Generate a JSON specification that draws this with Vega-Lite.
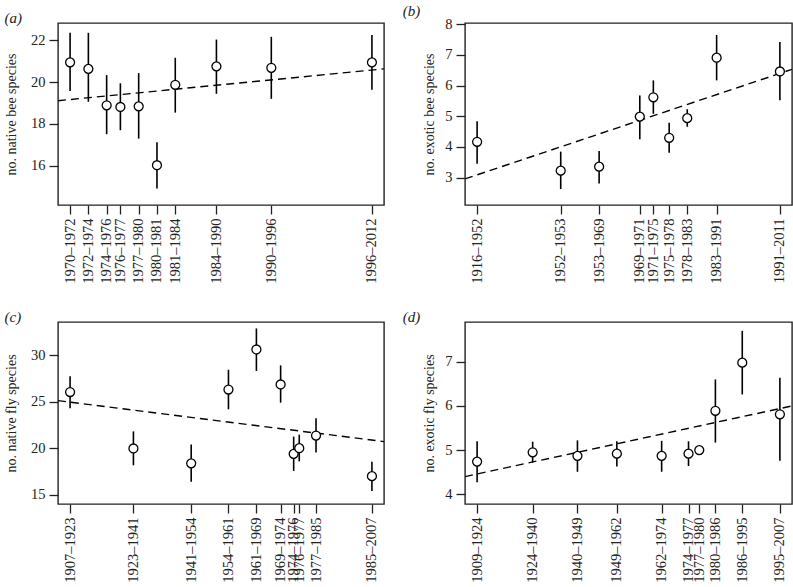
{
  "$schema": "https://vega.github.io/schema/vega-lite/v6.json",
  "background": "white",
  "padding": {"left": 3, "top": 3, "right": 0, "bottom": 0},
  "datasets": {
    "pts": [
      {"panel": "a", "period": "1970–1972", "mid": 1971, "value": 20.94, "lo": 19.57, "hi": 22.35},
      {"panel": "a", "period": "1972–1974", "mid": 1973, "value": 20.63, "lo": 19.06, "hi": 22.35},
      {"panel": "a", "period": "1974–1976", "mid": 1975, "value": 18.89, "lo": 17.51, "hi": 20.33},
      {"panel": "a", "period": "1976–1977", "mid": 1976.5, "value": 18.81, "lo": 17.70, "hi": 19.94},
      {"panel": "a", "period": "1977–1980", "mid": 1978.5, "value": 18.84, "lo": 17.30, "hi": 20.43},
      {"panel": "a", "period": "1980–1981", "mid": 1980.5, "value": 16.03, "lo": 14.92, "hi": 17.13},
      {"panel": "a", "period": "1981–1984", "mid": 1982.5, "value": 19.87, "lo": 18.54, "hi": 21.16},
      {"panel": "a", "period": "1984–1990", "mid": 1987, "value": 20.75, "lo": 19.44, "hi": 22.03},
      {"panel": "a", "period": "1990–1996", "mid": 1993, "value": 20.68, "lo": 19.20, "hi": 22.16},
      {"panel": "a", "period": "1996–2012", "mid": 2004, "value": 20.94, "lo": 19.63, "hi": 22.25},
      {"panel": "b", "period": "1916–1952", "mid": 1934, "value": 4.17, "lo": 3.45, "hi": 4.84},
      {"panel": "b", "period": "1952–1953", "mid": 1952.5, "value": 3.23, "lo": 2.63, "hi": 3.85},
      {"panel": "b", "period": "1953–1969", "mid": 1961, "value": 3.36, "lo": 2.81, "hi": 3.87},
      {"panel": "b", "period": "1969–1971", "mid": 1970, "value": 4.99, "lo": 4.25, "hi": 5.68},
      {"panel": "b", "period": "1971–1975", "mid": 1973, "value": 5.62, "lo": 5.08, "hi": 6.17},
      {"panel": "b", "period": "1975–1978", "mid": 1976.5, "value": 4.30, "lo": 3.81, "hi": 4.79},
      {"panel": "b", "period": "1978–1983", "mid": 1980.5, "value": 4.94, "lo": 4.66, "hi": 5.23},
      {"panel": "b", "period": "1983–1991", "mid": 1987, "value": 6.91, "lo": 6.17, "hi": 7.65},
      {"panel": "b", "period": "1991–2011", "mid": 2001, "value": 6.46, "lo": 5.52, "hi": 7.42},
      {"panel": "c", "period": "1907–1923", "mid": 1915, "value": 26.06, "lo": 24.31, "hi": 27.76},
      {"panel": "c", "period": "1923–1941", "mid": 1932, "value": 19.98, "lo": 18.17, "hi": 21.82},
      {"panel": "c", "period": "1941–1954", "mid": 1947.5, "value": 18.38, "lo": 16.39, "hi": 20.40},
      {"panel": "c", "period": "1954–1961", "mid": 1957.5, "value": 26.33, "lo": 24.20, "hi": 28.46},
      {"panel": "c", "period": "1961–1969", "mid": 1965, "value": 30.64, "lo": 28.33, "hi": 32.91},
      {"panel": "c", "period": "1969–1974", "mid": 1971.5, "value": 26.87, "lo": 24.91, "hi": 28.93},
      {"panel": "c", "period": "1974–1976", "mid": 1975, "value": 19.40, "lo": 17.56, "hi": 21.26},
      {"panel": "c", "period": "1976–1977", "mid": 1976.5, "value": 20.01, "lo": 18.59, "hi": 21.47},
      {"panel": "c", "period": "1977–1985", "mid": 1981, "value": 21.37, "lo": 19.55, "hi": 23.24},
      {"panel": "c", "period": "1985–2007", "mid": 1996, "value": 17.0, "lo": 15.40, "hi": 18.55},
      {"panel": "d", "period": "1909–1924", "mid": 1916.5, "value": 4.74, "lo": 4.27, "hi": 5.20},
      {"panel": "d", "period": "1924–1940", "mid": 1932, "value": 4.95, "lo": 4.72, "hi": 5.19},
      {"panel": "d", "period": "1940–1949", "mid": 1944.5, "value": 4.87, "lo": 4.51, "hi": 5.22},
      {"panel": "d", "period": "1949–1962", "mid": 1955.5, "value": 4.92, "lo": 4.63, "hi": 5.20},
      {"panel": "d", "period": "1962–1974", "mid": 1968, "value": 4.87, "lo": 4.51, "hi": 5.21},
      {"panel": "d", "period": "1974–1977", "mid": 1975.5, "value": 4.92, "lo": 4.64, "hi": 5.20},
      {"panel": "d", "period": "1977–1980", "mid": 1978.5, "value": 5.00, "lo": 4.94, "hi": 5.05},
      {"panel": "d", "period": "1980–1986", "mid": 1983, "value": 5.89, "lo": 5.17, "hi": 6.60},
      {"panel": "d", "period": "1986–1995", "mid": 1990.5, "value": 6.98, "lo": 6.26, "hi": 7.70},
      {"panel": "d", "period": "1995–2007", "mid": 2001, "value": 5.81, "lo": 4.76, "hi": 6.64}
    ],
    "fit": [
      {"panel": "a", "mid": 1969.68, "value": 19.11},
      {"panel": "a", "mid": 2005.32, "value": 20.63},
      {"panel": "b", "mid": 1931.32, "value": 2.96},
      {"panel": "b", "mid": 2003.68, "value": 6.53},
      {"panel": "c", "mid": 1911.76, "value": 25.13},
      {"panel": "c", "mid": 1999.24, "value": 20.72},
      {"panel": "d", "mid": 1913.12, "value": 4.40},
      {"panel": "d", "mid": 2004.38, "value": 6.00}
    ]
  },
  "columns": 2,
  "spacing": {"column": 17, "row": 25},
  "concat": [
    {
      "width": 326, "height": 182,
      "title": {"text": "(a)"},
      "encoding": {
        "x": {"field": "mid", "type": "quantitative", "scale": {"domain": [1969.68, 2005.32], "nice": false, "zero": false},
              "axis": {"title": null, "values": [1971, 1973, 1975, 1976.5, 1978.5, 1980.5, 1982.5, 1987, 1993, 2004], "labelAngle": 270, "labelOverlap": false, "labelBound": false, "labelFlush": false,
                       "labelExpr": "{'1971':'1970–1972','1973':'1972–1974','1975':'1974–1976','1976.5':'1976–1977','1978.5':'1977–1980','1980.5':'1980–1981','1982.5':'1981–1984','1987':'1984–1990','1993':'1990–1996','2004':'1996–2012'}[datum.value]"}},
        "y": {"field": "value", "type": "quantitative", "scale": {"domain": [14.13, 22.82], "nice": false, "zero": false},
              "axis": {"title": "no. native bee species", "values": [16, 18, 20, 22], "titlePadding": 12}}
      },
      "layer": [
        {"data": {"name": "fit"}, "transform": [{"filter": "datum.panel === 'a'"}], "mark": {"type": "line", "clip": true, "color": "black", "strokeWidth": 1.4, "strokeDash": [8, 5]}},
        {"data": {"name": "pts"}, "transform": [{"filter": "datum.panel === 'a'"}], "mark": {"type": "rule", "color": "black", "strokeWidth": 1.6}, "encoding": {"y": {"field": "lo", "type": "quantitative"}, "y2": {"field": "hi"}}},
        {"data": {"name": "pts"}, "transform": [{"filter": "datum.panel === 'a'"}], "mark": {"type": "point", "shape": "circle", "size": 80, "filled": false, "fill": "white", "fillOpacity": 1, "stroke": "black", "strokeWidth": 1.3, "opacity": 1}}
      ]
    },
    {
      "width": 327, "height": 182,
      "title": {"text": "(b)", "dx": -20},
      "encoding": {
        "x": {"field": "mid", "type": "quantitative", "scale": {"domain": [1931.32, 2003.68], "nice": false, "zero": false},
              "axis": {"title": null, "values": [1934, 1952.5, 1961, 1970, 1973, 1976.5, 1980.5, 1987, 2001], "labelAngle": 270, "labelOverlap": false, "labelBound": false, "labelFlush": false,
                       "labelExpr": "{'1934':'1916–1952','1952.5':'1952–1953','1961':'1953–1969','1970':'1969–1971','1973':'1971–1975','1976.5':'1975–1978','1980.5':'1978–1983','1987':'1983–1991','2001':'1991–2011'}[datum.value]"}},
        "y": {"field": "value", "type": "quantitative", "scale": {"domain": [2.11, 8.04], "nice": false, "zero": false},
              "axis": {"title": "no. exotic bee species", "values": [3, 4, 5, 6, 7, 8], "titlePadding": 8}}
      },
      "layer": [
        {"data": {"name": "fit"}, "transform": [{"filter": "datum.panel === 'b'"}], "mark": {"type": "line", "clip": true, "color": "black", "strokeWidth": 1.4, "strokeDash": [8, 5]}},
        {"data": {"name": "pts"}, "transform": [{"filter": "datum.panel === 'b'"}], "mark": {"type": "rule", "color": "black", "strokeWidth": 1.6}, "encoding": {"y": {"field": "lo", "type": "quantitative"}, "y2": {"field": "hi"}}},
        {"data": {"name": "pts"}, "transform": [{"filter": "datum.panel === 'b'"}], "mark": {"type": "point", "shape": "circle", "size": 80, "filled": false, "fill": "white", "fillOpacity": 1, "stroke": "black", "strokeWidth": 1.3, "opacity": 1}}
      ]
    },
    {
      "width": 326, "height": 182,
      "title": {"text": "(c)"},
      "encoding": {
        "x": {"field": "mid", "type": "quantitative", "scale": {"domain": [1911.76, 1999.24], "nice": false, "zero": false},
              "axis": {"title": null, "values": [1915, 1932, 1947.5, 1957.5, 1965, 1971.5, 1975, 1976.5, 1981, 1996], "labelAngle": 270, "labelOverlap": false, "labelBound": false, "labelFlush": false,
                       "labelExpr": "{'1915':'1907–1923','1932':'1923–1941','1947.5':'1941–1954','1957.5':'1954–1961','1965':'1961–1969','1971.5':'1969–1974','1975':'1974–1976','1976.5':'1976–1977','1981':'1977–1985','1996':'1985–2007'}[datum.value]"}},
        "y": {"field": "value", "type": "quantitative", "scale": {"domain": [14.0, 33.6], "nice": false, "zero": false},
              "axis": {"title": "no. native fly species", "values": [15, 20, 25, 30], "titlePadding": 12}}
      },
      "layer": [
        {"data": {"name": "fit"}, "transform": [{"filter": "datum.panel === 'c'"}], "mark": {"type": "line", "clip": true, "color": "black", "strokeWidth": 1.4, "strokeDash": [8, 5]}},
        {"data": {"name": "pts"}, "transform": [{"filter": "datum.panel === 'c'"}], "mark": {"type": "rule", "color": "black", "strokeWidth": 1.6}, "encoding": {"y": {"field": "lo", "type": "quantitative"}, "y2": {"field": "hi"}}},
        {"data": {"name": "pts"}, "transform": [{"filter": "datum.panel === 'c'"}], "mark": {"type": "point", "shape": "circle", "size": 80, "filled": false, "fill": "white", "fillOpacity": 1, "stroke": "black", "strokeWidth": 1.3, "opacity": 1}}
      ]
    },
    {
      "width": 327, "height": 182,
      "title": {"text": "(d)", "dx": -20},
      "encoding": {
        "x": {"field": "mid", "type": "quantitative", "scale": {"domain": [1913.12, 2004.38], "nice": false, "zero": false},
              "axis": {"title": null, "values": [1916.5, 1932, 1944.5, 1955.5, 1968, 1975.5, 1978.5, 1983, 1990.5, 2001], "labelAngle": 270, "labelOverlap": false, "labelBound": false, "labelFlush": false,
                       "labelExpr": "{'1916.5':'1909–1924','1932':'1924–1940','1944.5':'1940–1949','1955.5':'1949–1962','1968':'1962–1974','1975.5':'1974–1977','1978.5':'1977–1980','1983':'1980–1986','1990.5':'1986–1995','2001':'1995–2007'}[datum.value]"}},
        "y": {"field": "value", "type": "quantitative", "scale": {"domain": [3.78, 7.90], "nice": false, "zero": false},
              "axis": {"title": "no. exotic fly species", "values": [4, 5, 6, 7], "titlePadding": 8}}
      },
      "layer": [
        {"data": {"name": "fit"}, "transform": [{"filter": "datum.panel === 'd'"}], "mark": {"type": "line", "clip": true, "color": "black", "strokeWidth": 1.4, "strokeDash": [8, 5]}},
        {"data": {"name": "pts"}, "transform": [{"filter": "datum.panel === 'd'"}], "mark": {"type": "rule", "color": "black", "strokeWidth": 1.6}, "encoding": {"y": {"field": "lo", "type": "quantitative"}, "y2": {"field": "hi"}}},
        {"data": {"name": "pts"}, "transform": [{"filter": "datum.panel === 'd'"}], "mark": {"type": "point", "shape": "circle", "size": 80, "filled": false, "fill": "white", "fillOpacity": 1, "stroke": "black", "strokeWidth": 1.3, "opacity": 1}}
      ]
    }
  ],
  "config": {
    "font": "Liberation Serif",
    "view": {"stroke": "#222222", "strokeWidth": 1.4},
    "axis": {"grid": false, "domain": false, "tickColor": "#222222", "tickSize": 9, "tickWidth": 1.3,
             "labelColor": "#222222", "labelFont": "Liberation Serif", "labelFontSize": 14.5, "labelPadding": 4,
             "titleColor": "#222222", "titleFont": "Liberation Serif", "titleFontSize": 14, "titleFontWeight": "normal"},
    "title": {"anchor": "start", "frame": "bounds", "fontSize": 15, "fontWeight": "normal", "fontStyle": "italic", "color": "#222222", "font": "Liberation Serif", "offset": -3}
  }
}
